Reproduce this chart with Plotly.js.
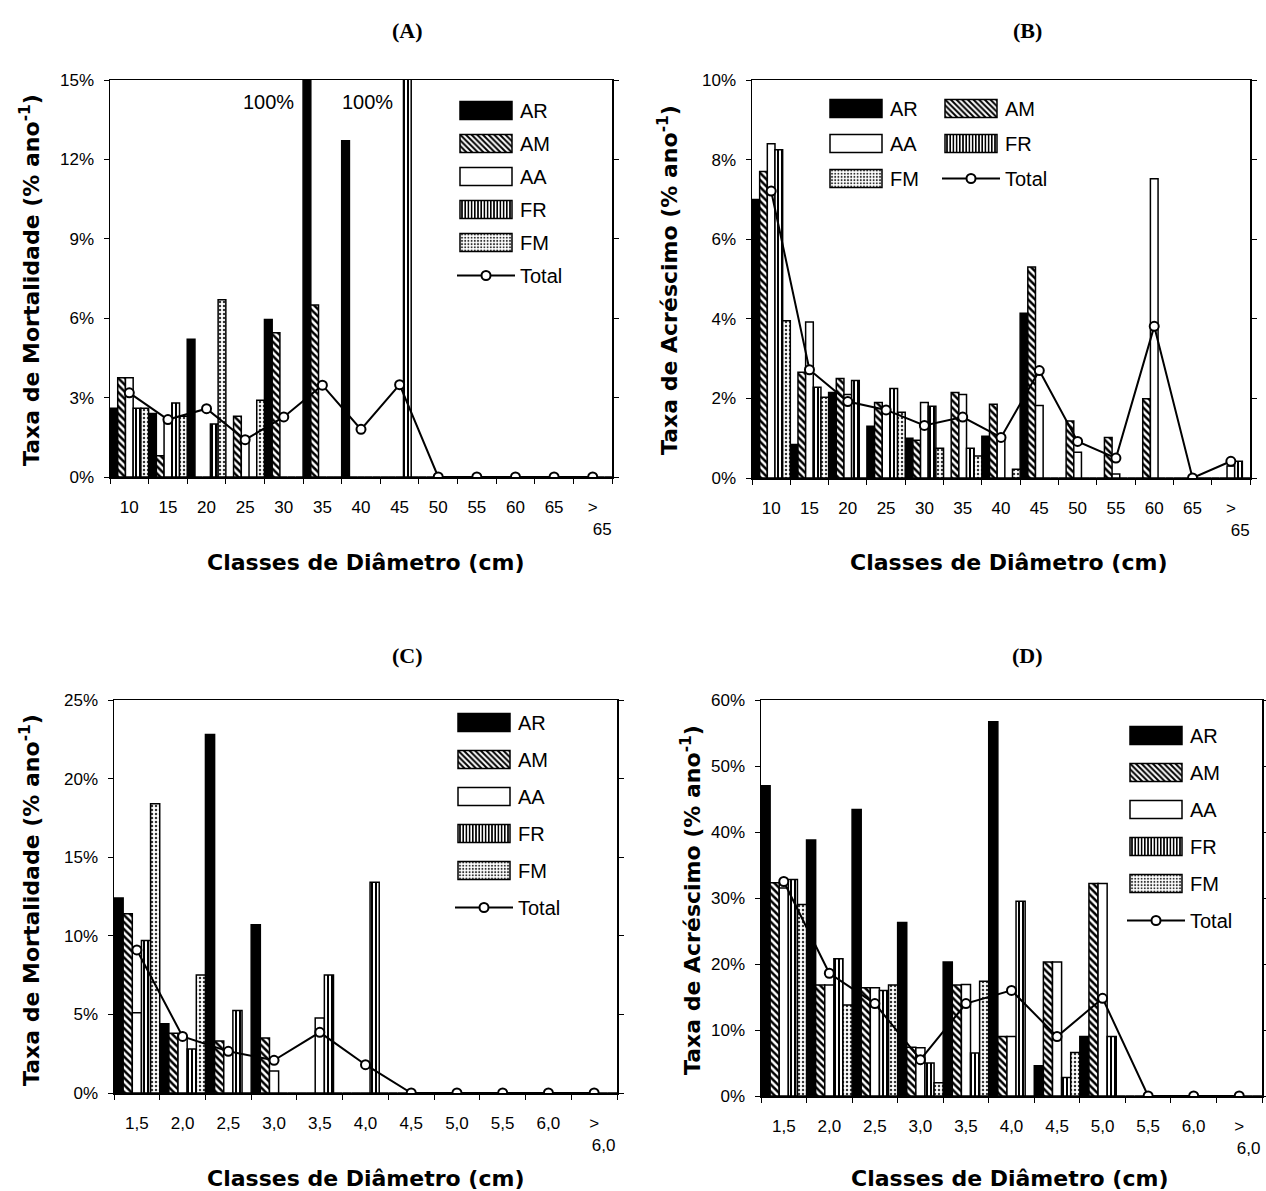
<!DOCTYPE html>
<html><head><meta charset="utf-8">
<script src="https://cdn.plot.ly/plotly-3.0.1.min.js"></script>
<style>body{margin:0;background:#fff}</style>
</head><body><div id="chart" style="width:1266px;height:1191px"></div>
<script>
// ---------- data ----------
const catsAB = ['10','15','20','25','30','35','40','45','50','55','60','65','>65'];
const labelsAB = ['10','15','20','25','30','35','40','45','50','55','60','65','&gt;<br>&nbsp;&nbsp;&nbsp;&nbsp;65'];
const catsCD = ['1,5','2,0','2,5','3,0','3,5','4,0','4,5','5,0','5,5','6,0','>6,0'];
const labelsCD = ['1,5','2,0','2,5','3,0','3,5','4,0','4,5','5,0','5,5','6,0','&gt;<br>&nbsp;&nbsp;&nbsp;&nbsp;6,0'];

// (A) Taxa de Mortalidade
const A_AR = [2.6, 2.4, 5.2, 0, 5.95, 100, 12.7, 0, 0, 0, 0, 0, 0];
const A_AM = [3.75, 0.8, 0, 2.3, 5.45, 6.5, 0, 0, 0, 0, 0, 0, 0];
const A_AA = [3.75, 2.2, 0, 1.5, 0, 0, 0, 0, 0, 0, 0, 0, 0];
const A_FR = [2.6, 2.8, 2.0, 0, 0, 0, 0, 100, 0, 0, 0, 0, 0];
const A_FM = [2.6, 2.3, 6.7, 2.9, 0, 0, 0, 0, 0, 0, 0, 0, 0];
const A_Total = [3.18, 2.17, 2.58, 1.41, 2.27, 3.47, 1.8, 3.49, 0, 0, 0, 0, 0];

// (B) Taxa de Acréscimo
const B_AR = [7.0, 0.84, 2.15, 1.3, 1.0, 0, 1.05, 4.14, 0, 0, 0, 0, 0];
const B_AM = [7.7, 2.66, 2.5, 1.9, 0.95, 2.15, 1.85, 5.3, 1.43, 1.02, 1.99, 0, 0];
const B_AA = [8.4, 3.92, 2.1, 1.65, 1.9, 2.1, 1.0, 1.82, 0.65, 0.1, 7.52, 0, 0.3];
const B_FR = [8.25, 2.28, 2.45, 2.25, 1.8, 0.75, 0, 0, 0, 0, 0, 0, 0.42];
const B_FM = [3.95, 2.03, 0, 1.65, 0.75, 0.55, 0.22, 0, 0, 0, 0, 0, 0];
const B_Total = [7.21, 2.72, 1.92, 1.71, 1.32, 1.53, 1.02, 2.70, 0.92, 0.50, 3.81, 0, 0.42];

// (C) Taxa de Mortalidade
const C_AR = [12.4, 4.4, 22.8, 10.7, 0, 0, 0, 0, 0, 0, 0];
const C_AM = [11.4, 3.8, 3.3, 3.5, 0, 0, 0, 0, 0, 0, 0];
const C_AA = [5.1, 3.6, 2.75, 1.4, 4.77, 0, 0, 0, 0, 0, 0];
const C_FR = [9.7, 2.8, 5.25, 0, 7.5, 13.4, 0, 0, 0, 0, 0];
const C_FM = [18.4, 7.5, 0, 0, 0, 0, 0, 0, 0, 0, 0];
const C_Total = [9.1, 3.6, 2.65, 2.08, 3.86, 1.8, 0, 0, 0, 0, 0];

// (D) Taxa de Acréscimo
const D_AR = [47.0, 38.8, 43.4, 26.3, 20.3, 56.7, 4.6, 9.0, 0, 0, 0];
const D_AM = [32.3, 16.8, 16.4, 7.4, 16.8, 9.0, 20.3, 32.2, 0, 0, 0];
const D_AA = [31.5, 16.8, 16.4, 7.3, 16.9, 9.0, 20.3, 32.2, 0, 0, 0];
const D_FR = [32.8, 20.8, 16.0, 5.0, 6.5, 29.5, 2.8, 9.0, 0, 0, 0];
const D_FM = [29.0, 13.8, 16.8, 2.0, 17.4, 0, 6.6, 0, 0, 0, 0];
const D_Total = [32.5, 18.6, 14.0, 5.5, 14.0, 16.0, 9.0, 14.8, 0, 0, 0];

// ---------- styles ----------
const FONT = 'Liberation Sans, Arial, sans-serif';
const TITLEFONT = 'DejaVu Sans, Liberation Sans, sans-serif';
const SERIF = 'Liberation Serif, Times New Roman, serif';
const edge = {color:'black', width:1.5};
const styles = {
  AR: {color:'black', line:edge},
  AM: {color:'white', line:edge, pattern:{shape:'\\', fgcolor:'black', bgcolor:'white', size:5, solidity:0.5, fillmode:'replace'}},
  AA: {color:'white', line:edge},
  FR: {color:'white', line:edge, pattern:{shape:'|', fgcolor:'black', bgcolor:'white', size:4, solidity:0.5, fillmode:'replace'}},
  FM: {color:'white', line:edge, pattern:{shape:'.', fgcolor:'#333', bgcolor:'white', size:4, solidity:0.3, fillmode:'replace'}}
};

function bar(name, x, y, ax, legend){
  return {type:'bar', name:name, x:x, y:y, xaxis:'x'+ax, yaxis:'y'+ax,
    legend:legend, legendgroup:legend+name, marker:styles[name], hoverinfo:'skip'};
}
function total(x, y, ax, legend){
  return {type:'scatter', mode:'lines+markers', name:'Total', x:x, y:y, xaxis:'x'+ax, yaxis:'y'+ax,
    legend:legend, legendgroup:legend+'Total', line:{color:'black', width:2},
    marker:{symbol:'circle', size:9, color:'white', line:{color:'black', width:2}}, hoverinfo:'skip'};
}

const traces = [
  bar('AR', catsAB, A_AR, '', 'legend'), bar('AM', catsAB, A_AM, '', 'legend'),
  bar('AA', catsAB, A_AA, '', 'legend'), bar('FR', catsAB, A_FR, '', 'legend'),
  bar('FM', catsAB, A_FM, '', 'legend'), total(catsAB, A_Total, '', 'legend'),

  bar('AR', catsAB, B_AR, '2', 'legend2'), bar('AM', catsAB, B_AM, '2', 'legend3'),
  bar('AA', catsAB, B_AA, '2', 'legend2'), bar('FR', catsAB, B_FR, '2', 'legend3'),
  bar('FM', catsAB, B_FM, '2', 'legend2'), total(catsAB, B_Total, '2', 'legend3'),

  bar('AR', catsCD, C_AR, '3', 'legend4'), bar('AM', catsCD, C_AM, '3', 'legend4'),
  bar('AA', catsCD, C_AA, '3', 'legend4'), bar('FR', catsCD, C_FR, '3', 'legend4'),
  bar('FM', catsCD, C_FM, '3', 'legend4'), total(catsCD, C_Total, '3', 'legend4'),

  bar('AR', catsCD, D_AR, '4', 'legend5'), bar('AM', catsCD, D_AM, '4', 'legend5'),
  bar('AA', catsCD, D_AA, '4', 'legend5'), bar('FR', catsCD, D_FR, '4', 'legend5'),
  bar('FM', catsCD, D_FM, '4', 'legend5'), total(catsCD, D_Total, '4', 'legend5')
];
traces.slice(0,6).forEach(t => { t.xaxis = 'x'; t.yaxis = 'y'; });

function xax(domain, anchor, cats, labels){
  return {domain:domain, anchor:anchor, type:'category', categoryorder:'array', categoryarray:cats,
    range:[-0.5, cats.length - 0.5], autorange:false,
    tickvals:cats, ticktext:labels, tickson:'boundaries', ticks:'outside', ticklen:5, tickcolor:'black',
    showline:true, linecolor:'black', linewidth:1.5, mirror:true, showgrid:false, tickangle:0,
    tickfont:{family:FONT, size:17, color:'black'}, ticklabelstandoff:14, fixedrange:true};
}
function yax(domain, anchor, max, dtick){
  return {domain:domain, anchor:anchor, range:[0,max], dtick:dtick, ticksuffix:'%', ticks:'outside',
    ticklen:5, tickcolor:'black', showline:true, linecolor:'black', linewidth:1.5, mirror:'ticks',
    showgrid:false, zeroline:false, tickfont:{family:FONT, size:17, color:'black'}, ticklabelstandoff:6, fixedrange:true};
}
function leg(x, y, gap){
  return {x:x, y:y, xanchor:'left', yanchor:'top', bgcolor:'rgba(0,0,0,0)', borderwidth:0,
    font:{family:FONT, size:20, color:'black'}, traceorder:'grouped', tracegroupgap:gap, itemwidth:58,
    itemclick:false, itemdoubleclick:false};
}
const W = 1266, H = 1191;
const px = v => v / W, py = v => 1 - v / H;

const ann = [];
function txt(t, x, y, size, family, angle, bold){
  ann.push({xref:'paper', yref:'paper', x:px(x), y:py(y), text: bold ? '<b>'+t+'</b>' : t, showarrow:false,
    font:{family:family, size:size, color:'black'}, textangle:angle||0, xanchor:'center', yanchor:'middle'});
}
txt('(A)', 407, 30, 22, SERIF, 0, true);
txt('(B)', 1027, 30, 22, SERIF, 0, true);
txt('(C)', 407, 655, 22, SERIF, 0, true);
txt('(D)', 1027, 655, 22, SERIF, 0, true);
txt('Classes de Diâmetro (cm)', 365, 562, 22, TITLEFONT, 0, true);
txt('Classes de Diâmetro (cm)', 1008, 562, 22, TITLEFONT, 0, true);
txt('Classes de Diâmetro (cm)', 365, 1178, 22, TITLEFONT, 0, true);
txt('Classes de Diâmetro (cm)', 1010, 1178, 22, TITLEFONT, 0, true);
txt('Taxa de Mortalidade (% ano<sup>-1</sup>)', 30, 280, 22, TITLEFONT, -90, true);
txt('Taxa de Acréscimo (% ano<sup>-1</sup>)', 668, 280, 22, TITLEFONT, -90, true);
txt('Taxa de Mortalidade (% ano<sup>-1</sup>)', 30, 900, 22, TITLEFONT, -90, true);
txt('Taxa de Acréscimo (% ano<sup>-1</sup>)', 691, 900, 22, TITLEFONT, -90, true);
ann.push({xref:'x', yref:'y', x:4.32, y:14.15, text:'100%', showarrow:false, xanchor:'right', yanchor:'middle',
  font:{family:FONT, size:20, color:'black'}});
ann.push({xref:'x', yref:'y', x:6.88, y:14.15, text:'100%', showarrow:false, xanchor:'right', yanchor:'middle',
  font:{family:FONT, size:20, color:'black'}});

const layout = {
  width:W, height:H, margin:{l:0, r:0, t:0, b:0}, paper_bgcolor:'white', plot_bgcolor:'white',
  barmode:'group', bargap:0, bargroupgap:0, hovermode:false,
  font:{family:FONT, color:'black'},
  xaxis: xax([px(110), px(612)], 'y', catsAB, labelsAB),
  yaxis: yax([py(477), py(80)], 'x', 15, 3),
  xaxis2: xax([px(752), px(1250)], 'y2', catsAB, labelsAB),
  yaxis2: yax([py(478), py(80)], 'x2', 10, 2),
  xaxis3: xax([px(114), px(617)], 'y3', catsCD, labelsCD),
  yaxis3: yax([py(1093), py(700)], 'x3', 25, 5),
  xaxis4: xax([px(761), px(1262)], 'y4', catsCD, labelsCD),
  yaxis4: yax([py(1096), py(700)], 'x4', 60, 10),
  legend: leg(px(452), py(91), 4),
  legend2: leg(px(822), py(89), 6),
  legend3: leg(px(937), py(89), 6),
  legend4: leg(px(450), py(703), 8),
  legend5: leg(px(1122), py(716), 8),
  annotations: ann
};

Plotly.newPlot('chart', traces, layout, {staticPlot:true, displayModeBar:false}).then(() => {
  // widen the bar swatches of all legends to match the original's long rectangles
  document.querySelectorAll('.legendpoints path').forEach(p => {
    const d = (p.getAttribute('d') || '').replace(/\s/g, '');
    if (d === 'M6,6H-6V-6H6Z') p.setAttribute('d', 'M-26,9H26V-9H-26Z');
  });
});
</script></body></html>
